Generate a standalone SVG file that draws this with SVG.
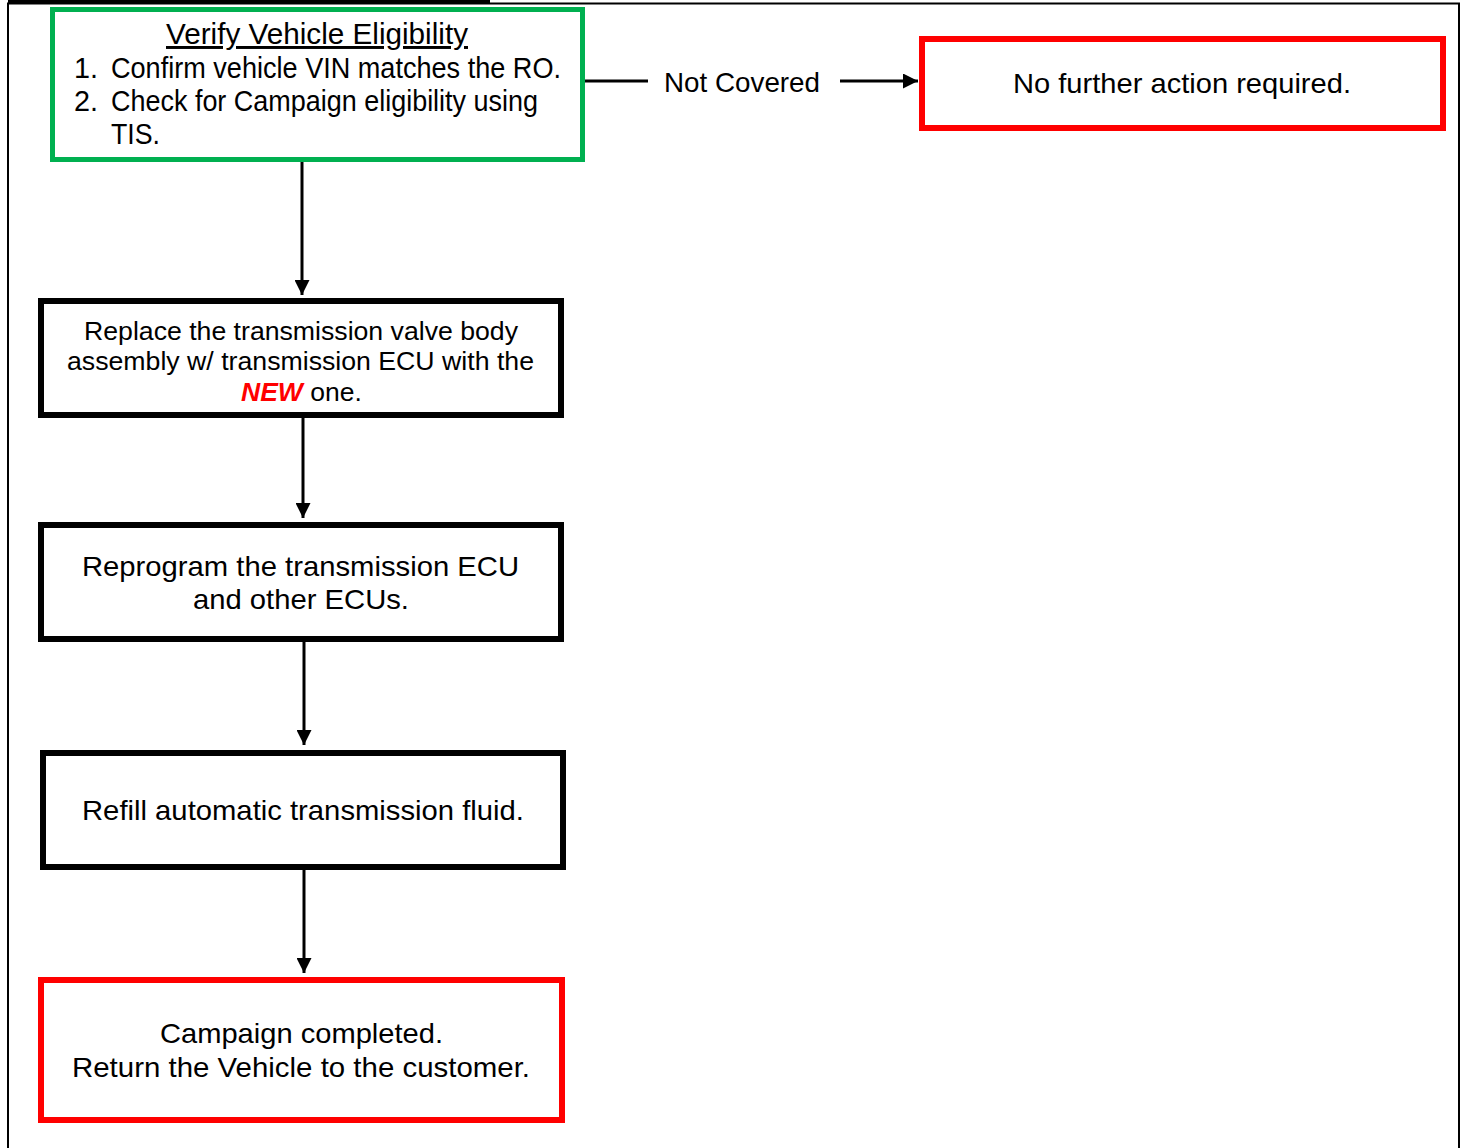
<svg xmlns="http://www.w3.org/2000/svg" width="1465" height="1148" viewBox="0 0 1465 1148">
<style>
text{font-family:"Liberation Sans",Arial,sans-serif;fill:#000}
.t{font-size:28px}
.g{font-size:29.5px}
.line{stroke:#000;stroke-width:3;fill:none}
.blk{fill:#fff;stroke:#000;stroke-width:6}
.red{fill:#fff;stroke:#ff0000;stroke-width:6}
.grn{fill:#fff;stroke:#00b050;stroke-width:5}
</style>
<defs>
<marker id="ah" viewBox="0 0 10 10" refX="10" refY="5" markerWidth="5" markerHeight="5" markerUnits="strokeWidth" orient="auto">
<path d="M0,0 L10,5 L0,10 z" fill="#000"/>
</marker>
</defs>
<rect width="1465" height="1148" fill="#fff"/>
<g id="frame">
<path d="M8,1148 V3.5 H1459 V1148" fill="none" stroke="#000" stroke-width="2"/>
<line x1="8" y1="1.5" x2="490" y2="1.5" stroke="#000" stroke-width="3"/>
</g>
<g id="connectors">
<line class="line" x1="302" y1="162" x2="302" y2="295" marker-end="url(#ah)"/>
<line class="line" x1="303" y1="418" x2="303" y2="518" marker-end="url(#ah)"/>
<line class="line" x1="304" y1="642" x2="304" y2="745" marker-end="url(#ah)"/>
<line class="line" x1="304" y1="870" x2="304" y2="973" marker-end="url(#ah)"/>
<line class="line" x1="585" y1="81" x2="648" y2="81"/>
<line class="line" x1="840" y1="81" x2="918" y2="81" marker-end="url(#ah)"/>
<text class="t" x="664" y="92" textLength="156" lengthAdjust="spacingAndGlyphs">Not Covered</text>
</g>
<g id="verify">
<rect class="grn" x="52.5" y="9.5" width="530" height="150"/>
<text class="g" x="166" y="44" textLength="302" lengthAdjust="spacingAndGlyphs" text-decoration="underline">Verify Vehicle Eligibility</text>
<text class="g" x="74" y="78" textLength="24" lengthAdjust="spacingAndGlyphs">1.</text>
<text class="g" x="111" y="78" textLength="450" lengthAdjust="spacingAndGlyphs">Confirm vehicle VIN matches the RO.</text>
<text class="g" x="74" y="111" textLength="24" lengthAdjust="spacingAndGlyphs">2.</text>
<text class="g" x="111" y="111" textLength="427" lengthAdjust="spacingAndGlyphs">Check for Campaign eligibility using</text>
<text class="g" x="111" y="144" textLength="49" lengthAdjust="spacingAndGlyphs">TIS.</text>
</g>
<g id="no-action">
<rect class="red" x="922" y="39" width="521" height="89"/>
<text class="t" x="1013" y="93" textLength="338" lengthAdjust="spacingAndGlyphs">No further action required.</text>
</g>
<g id="replace">
<rect class="blk" x="41" y="301" width="520" height="114"/>
<text style="font-size:26.5px" x="84" y="340" textLength="434" lengthAdjust="spacingAndGlyphs">Replace the transmission valve body</text>
<text style="font-size:26.5px" x="67" y="370" textLength="467" lengthAdjust="spacingAndGlyphs">assembly w/ transmission ECU with the</text>
<text style="font-size:26.5px" x="241" y="401"><tspan style="fill:#ff0000;font-weight:bold;font-style:italic">NEW</tspan> one.</text>
</g>
<g id="reprogram">
<rect class="blk" x="41" y="525" width="520" height="114"/>
<text class="t" x="82" y="576" textLength="437" lengthAdjust="spacingAndGlyphs">Reprogram the transmission ECU</text>
<text class="t" x="193" y="609" textLength="216" lengthAdjust="spacingAndGlyphs">and other ECUs.</text>
</g>
<g id="refill">
<rect class="blk" x="43" y="753" width="520" height="114"/>
<text class="t" x="82" y="820" textLength="442" lengthAdjust="spacingAndGlyphs">Refill automatic transmission fluid.</text>
</g>
<g id="completed">
<rect class="red" x="41" y="980" width="521" height="140"/>
<text class="t" x="160" y="1043" textLength="283" lengthAdjust="spacingAndGlyphs">Campaign completed.</text>
<text class="t" x="72" y="1077" textLength="458" lengthAdjust="spacingAndGlyphs">Return the Vehicle to the customer.</text>
</g>
</svg>
